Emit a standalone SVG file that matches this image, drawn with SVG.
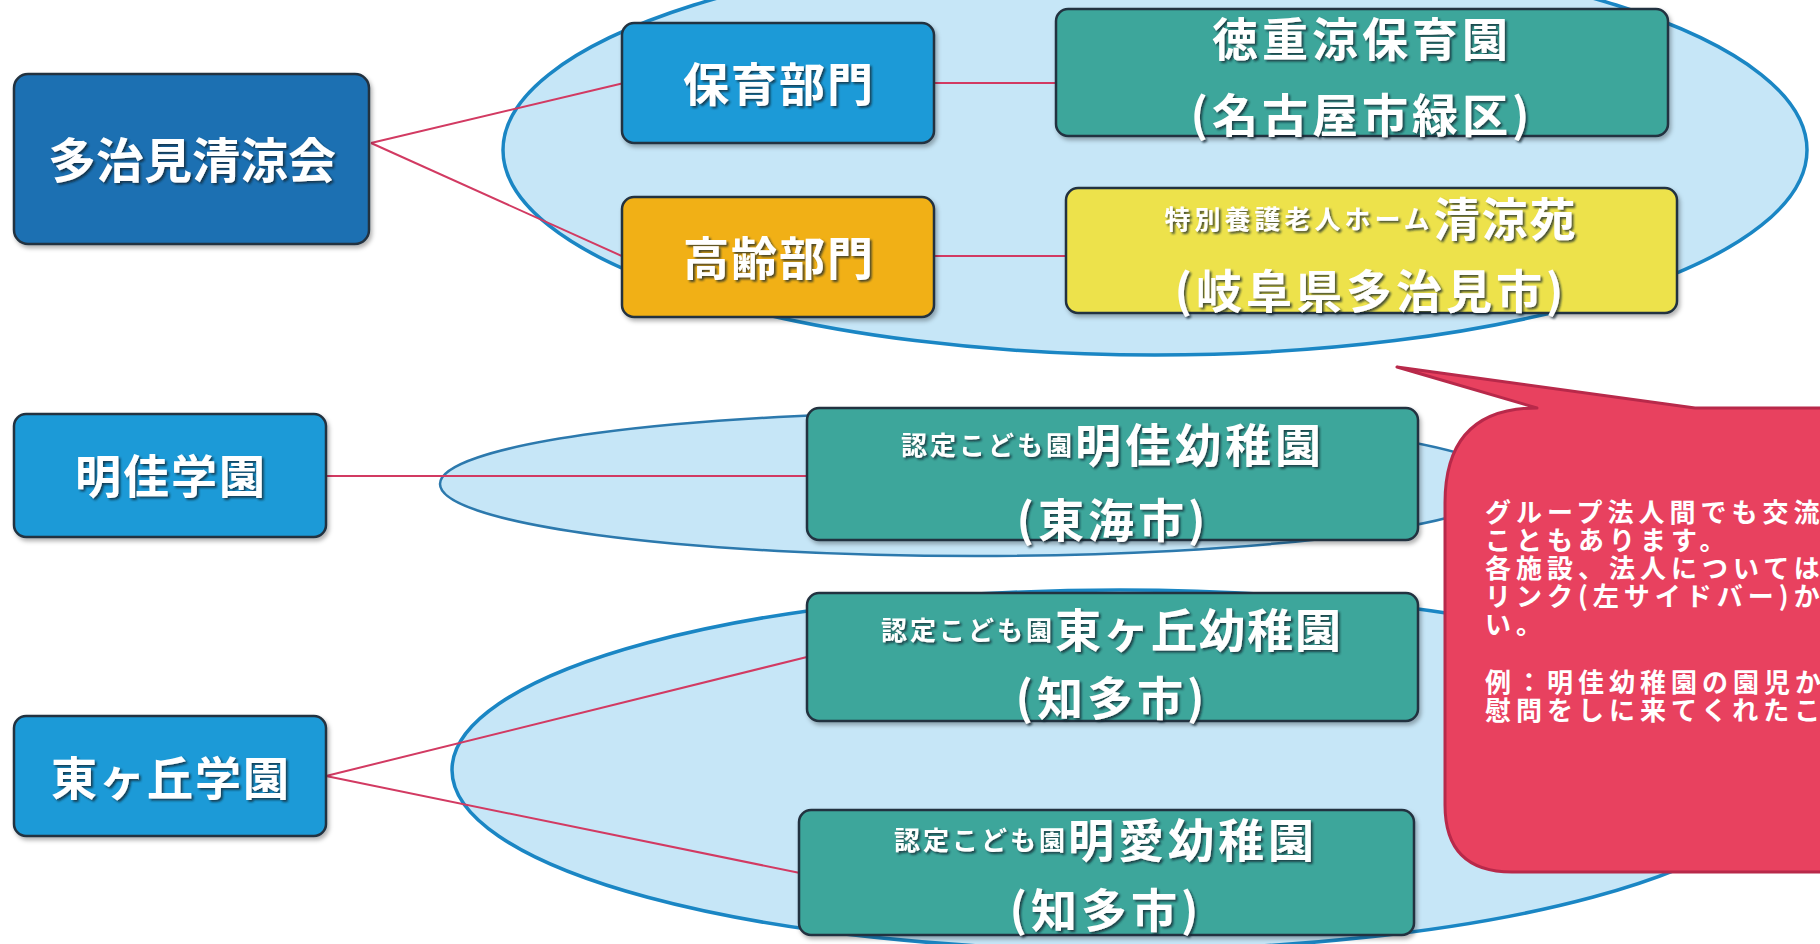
<svg xmlns="http://www.w3.org/2000/svg" width="1820" height="944" viewBox="0 0 1820 944">
  <defs>
    <style>
      .box { stroke: #22313f; stroke-width: 2.5; }
      .navy { fill: #1d6fb2; }
      .blue { fill: #1b9ad7; }
      .orange { fill: #f1b016; }
      .teal { fill: #3ca69b; }
      .yellow { fill: #ede24c; }
      .lbl { font-family: "Noto Sans CJK JP", "Noto Sans", sans-serif; font-weight: 700; fill: #ffffff; text-anchor: middle; }
      .conn { stroke: #d23a62; stroke-width: 2; fill: none; }
      .grp { fill: #c6e6f7; stroke: #1a86c4; stroke-width: 3.5; }
      .grp2 { fill: #c6e6f7; stroke: #2c79ad; stroke-width: 2.5; }
      .note { font-family: "Noto Sans CJK JP", "Noto Sans", sans-serif; font-weight: 700; fill: #ffffff; font-size: 26px; letter-spacing: 5px; }
    </style>
    <filter id="ts" x="-10%" y="-20%" width="130%" height="150%">
      <feDropShadow dx="2" dy="2" stdDeviation="1" flood-color="#15222e" flood-opacity="0.75"/>
    </filter>
    <filter id="bs" x="-5%" y="-10%" width="115%" height="130%">
      <feDropShadow dx="2" dy="3" stdDeviation="2" flood-color="#000000" flood-opacity="0.3"/>
    </filter>
    <clipPath id="canvas"><rect x="0" y="0" width="1820" height="944"/></clipPath>
  </defs>

  <rect x="0" y="0" width="1820" height="944" fill="#ffffff"/>

  <g id="group-areas">
    <ellipse class="grp" cx="1155" cy="150" rx="652" ry="205"/>
    <ellipse class="grp2" cx="975" cy="484" rx="535" ry="72"/>
    <ellipse class="grp" cx="1120" cy="770" rx="668" ry="180"/>
  </g>

  <g id="connectors">
    <line class="conn" x1="371" y1="143" x2="624" y2="83"/>
    <line class="conn" x1="371" y1="143" x2="624" y2="257"/>
    <line class="conn" x1="934" y1="83" x2="1056" y2="83"/>
    <line class="conn" x1="934" y1="256" x2="1066" y2="256"/>
    <line class="conn" x1="326" y1="476" x2="807" y2="476"/>
    <line class="conn" x1="326" y1="776" x2="807" y2="657"/>
    <line class="conn" x1="326" y1="776" x2="800" y2="873"/>
  </g>

  <g id="node-tajimi-seiryokai">
    <rect class="box navy" filter="url(#bs)" x="14" y="74" width="355" height="170" rx="14"/>
    <text class="lbl" filter="url(#ts)" x="192" y="178" font-size="48">多治見清涼会</text>
  </g>

  <g id="node-hoiku">
    <rect class="box blue" filter="url(#bs)" x="622" y="23" width="312" height="120" rx="12"/>
    <text class="lbl" filter="url(#ts)" x="779" y="101" font-size="46" letter-spacing="2">保育部門</text>
  </g>

  <g id="node-koureii">
    <rect class="box orange" filter="url(#bs)" x="622" y="197" width="312" height="120" rx="12"/>
    <text class="lbl" filter="url(#ts)" x="779" y="275" font-size="46" letter-spacing="2">高齢部門</text>
  </g>

  <g id="node-tokushige">
    <rect class="box teal" filter="url(#bs)" x="1056" y="9" width="612" height="127" rx="12"/>
    <text class="lbl" filter="url(#ts)" x="1362" y="56" font-size="46" letter-spacing="4">徳重涼保育園</text>
    <text class="lbl" filter="url(#ts)" x="1362" y="132" font-size="46" letter-spacing="4">(名古屋市緑区)</text>
  </g>

  <g id="node-seiryoen">
    <rect class="box yellow" filter="url(#bs)" x="1066" y="188" width="611" height="125" rx="12"/>
    <text class="lbl" filter="url(#ts)" x="1371" y="236"><tspan font-size="26" letter-spacing="4" dy="-7">特別養護老人ホーム</tspan><tspan font-size="46" letter-spacing="2" dy="7">清涼苑</tspan></text>
    <text class="lbl" filter="url(#ts)" x="1371" y="308" font-size="46" letter-spacing="4">(岐阜県多治見市)</text>
  </g>

  <g id="node-meika-gakuen">
    <rect class="box blue" filter="url(#bs)" x="14" y="414" width="312" height="123" rx="12"/>
    <text class="lbl" filter="url(#ts)" x="171" y="493" font-size="46" letter-spacing="2">明佳学園</text>
  </g>

  <g id="node-meika-youchien">
    <rect class="box teal" filter="url(#bs)" x="807" y="408" width="611" height="132" rx="12"/>
    <text class="lbl" filter="url(#ts)" x="1113" y="462"><tspan font-size="26" letter-spacing="3" dy="-7">認定こども園</tspan><tspan font-size="46" letter-spacing="4" dy="7">明佳幼稚園</tspan></text>
    <text class="lbl" filter="url(#ts)" x="1113" y="537" font-size="46" letter-spacing="4">(東海市)</text>
  </g>

  <g id="node-higashigaoka-gakuen">
    <rect class="box blue" filter="url(#bs)" x="14" y="716" width="312" height="120" rx="12"/>
    <text class="lbl" filter="url(#ts)" x="171" y="795" font-size="46" letter-spacing="2">東ヶ丘学園</text>
  </g>

  <g id="node-higashigaoka-youchien">
    <rect class="box teal" filter="url(#bs)" x="807" y="593" width="611" height="128" rx="12"/>
    <text class="lbl" filter="url(#ts)" x="1112" y="647"><tspan font-size="26" letter-spacing="3" dy="-7">認定こども園</tspan><tspan font-size="46" letter-spacing="2" dy="7">東ヶ丘幼稚園</tspan></text>
    <text class="lbl" filter="url(#ts)" x="1112" y="715" font-size="46" letter-spacing="4">(知多市)</text>
  </g>

  <g id="node-meiai-youchien">
    <rect class="box teal" filter="url(#bs)" x="799" y="810" width="615" height="125" rx="12"/>
    <text class="lbl" filter="url(#ts)" x="1106" y="857"><tspan font-size="26" letter-spacing="3" dy="-7">認定こども園</tspan><tspan font-size="46" letter-spacing="4" dy="7">明愛幼稚園</tspan></text>
    <text class="lbl" filter="url(#ts)" x="1106" y="927" font-size="46" letter-spacing="4">(知多市)</text>
  </g>

  <g id="callout" clip-path="url(#canvas)">
    <path d="M 1537 408 L 1397 367 L 1695 408 L 1840 408 L 1840 872 L 1512 872 Q 1445 872 1445 805 L 1445 503 Q 1445 408 1537 408 Z" fill="#e8415f" stroke="#b8294a" stroke-width="3" stroke-linejoin="round"/>
    <text class="note" x="1485" y="522">グループ法人間でも交流</text>
    <text class="note" x="1485" y="550">こともあります。</text>
    <text class="note" x="1485" y="578">各施設、法人については</text>
    <text class="note" x="1485" y="606">リンク(左サイドバー)か</text>
    <text class="note" x="1485" y="634">い。</text>
    <text class="note" x="1485" y="692">例：明佳幼稚園の園児か</text>
    <text class="note" x="1485" y="720">慰問をしに来てくれたこ</text>
  </g>
</svg>
